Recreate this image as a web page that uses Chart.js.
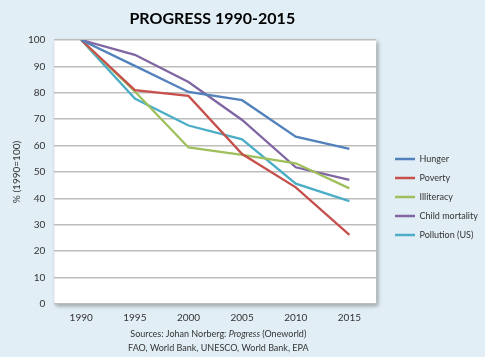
<!DOCTYPE html>
<html>
<head>
<meta charset="utf-8">
<script src="https://cdn.jsdelivr.net/npm/chart.js@4/dist/chart.umd.min.js"></script>
<style>
html,body{margin:0;padding:0;background:#e2eef5;}
#wrap{width:485px;height:357px;position:relative;}
</style>
</head>
<body>
<div id="wrap"><canvas id="c" width="485" height="357"></canvas></div>
<script>
const years = ["1990","1995","2000","2005","2010","2015"];
const hunger = [100, 90.2, 80.3, 77.2, 63.4, 58.8];
const poverty = [100, 81, 78.8, 56.8, 44.2, 26.2];
const illiteracy = [100, 80.5, 59.3, 56.5, 53.3, 43.8];
const childMortality = [100, 94.4, 84.1, 69.7, 51.8, 47];
const pollution = [100, 77.8, 67.6, 62.4, 45.6, 39];
const seriesNames = ["Hunger","Poverty","Illiteracy","Child mortality","Pollution (US)"];
const seriesColors = ["#5281bb","#c5504c","#9fbf5c","#8065a3","#4badc6"];
const titleText = "PROGRESS 1990-2015";
const sourceLine1 = ["Sources: Johan Norberg: ", "Progress", " (Oneworld)"];
const sourceLine2 = "FAO, World Bank, UNESCO, World Bank, EPA";
const yTitle = "% (1990=100)";

const FONT = "Lato, 'Open Sans', sans-serif";
const allData = [hunger, poverty, illiteracy, childMortality, pollution];
const LEGEND_PAD = 10;

const bgPlugin = {
  id: 'bg',
  afterUpdate(chart) {
    const lg = chart.legend;
    if (lg) {
      lg.top += 11; lg.bottom += 11;
      const dx = 395 - (lg.left + LEGEND_PAD);
      lg.left += dx; lg.right += dx;
    }
  },
  beforeDraw(chart) {
    const ctx = chart.ctx, a = chart.chartArea;
    ctx.save();
    ctx.fillStyle = '#e2eef5';
    ctx.fillRect(0, 0, chart.width, chart.height);
    ctx.shadowColor = 'rgba(0,0,0,0.35)';
    ctx.shadowBlur = 4;
    ctx.shadowOffsetX = 2;
    ctx.shadowOffsetY = 2;
    ctx.fillStyle = '#ffffff';
    ctx.fillRect(a.left, a.top, a.right - a.left, a.bottom - a.top);
    ctx.restore();
  },
  afterDraw(chart) {
    const ctx = chart.ctx, a = chart.chartArea;
    const cx = (a.left + a.right) / 2;
    ctx.save();
    ctx.fillStyle = '#000';
    ctx.font = "bold 16px " + FONT;
    ctx.textAlign = 'center';
    ctx.textBaseline = 'middle';
    ctx.fillText(titleText, cx - 3, 19);
    ctx.fillStyle = '#333';
    const f1 = "9px " + FONT, f2 = "italic 9px " + FONT;
    const parts = sourceLine1.map((t, i) => ({t, f: i === 1 ? f2 : f1}));
    let w = 0;
    parts.forEach(p => { ctx.font = p.f; p.w = ctx.measureText(p.t).width; w += p.w; });
    let x = cx + 3 - w / 2;
    ctx.textAlign = 'left';
    parts.forEach(p => { ctx.font = p.f; ctx.fillText(p.t, x, 334); x += p.w; });
    ctx.font = f1;
    ctx.textAlign = 'center';
    ctx.fillText(sourceLine2, cx + 3, 348);
    ctx.restore();
  }
};

new Chart(document.getElementById('c'), {
  type: 'line',
  data: {
    labels: years,
    datasets: allData.map((d, i) => ({
      label: seriesNames[i],
      data: d,
      borderColor: seriesColors[i],
      backgroundColor: seriesColors[i],
      borderWidth: 2.3,
      pointRadius: 0,
      tension: 0,
      fill: false
    }))
  },
  options: {
    responsive: false,
    animation: false,
    devicePixelRatio: 1,
    layout: { padding: { top: 40, bottom: 25, left: 7, right: 6 } },
    plugins: {
      title: { display: false },
      tooltip: { enabled: false },
      legend: {
        position: 'right',
        align: 'center',
        labels: {
          usePointStyle: true,
          pointStyle: 'line',
          pointStyleWidth: 20,
          boxWidth: 20,
          boxHeight: 2,
          padding: LEGEND_PAD,
          color: '#333',
          font: { family: FONT, size: 9 }
        }
      }
    },
    scales: {
      x: {
        offset: true,
        grid: { display: false, drawTicks: false },
        border: { display: false },
        ticks: { color: '#333', font: { family: FONT, size: 10 }, padding: 8 }
      },
      y: {
        min: 0, max: 100,
        ticks: { stepSize: 10, color: '#333', font: { family: FONT, size: 10 }, padding: 9 },
        grid: { color: '#bdbdbd', lineWidth: 1.6, drawTicks: false },
        border: { display: false },
        title: { display: true, text: yTitle, color: '#333', font: { family: FONT, size: 10 }, padding: { top: 4, bottom: -4 } }
      }
    }
  },
  plugins: [bgPlugin]
});
</script>
</body>
</html>
